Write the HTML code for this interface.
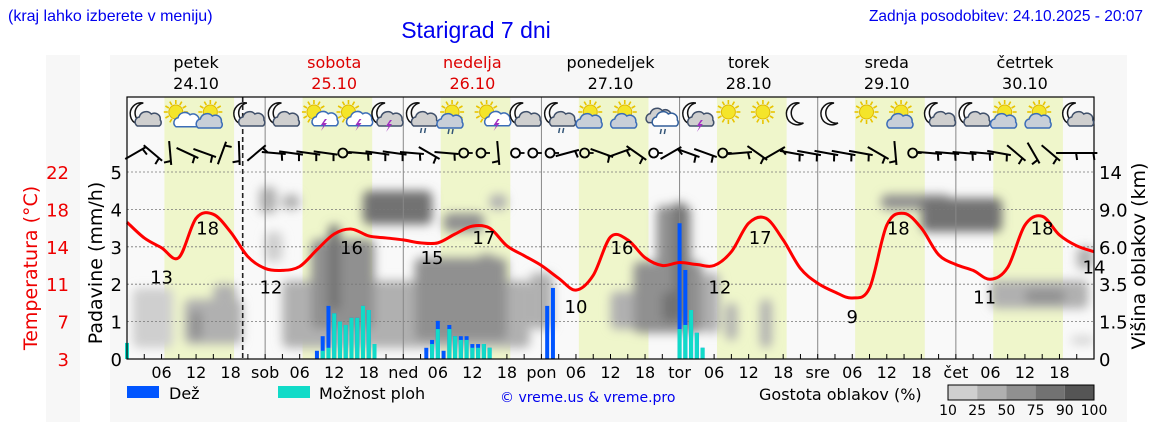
<!DOCTYPE html>
<html><head><meta charset="utf-8">
<style>
html,body{margin:0;padding:0;background:#fff;width:1152px;height:443px;overflow:hidden}
svg{display:block}
.t{font-family:"DejaVu Sans","Liberation Sans",sans-serif}
.l{font-family:"Liberation Sans",sans-serif}
</style></head>
<body>
<svg id="chart" width="1152" height="443" viewBox="0 0 1152 443" xmlns="http://www.w3.org/2000/svg">
<defs>
<filter id="blur" x="-20%" y="-20%" width="140%" height="140%"><feGaussianBlur stdDeviation="5"/></filter>
<clipPath id="plotclip"><rect x="127" y="97" width="967" height="262"/></clipPath>
</defs>
<rect x="46" y="55" width="34" height="367" fill="#f7f7f7"/>
<rect x="110" y="55" width="1017" height="367" fill="#f7f7f7"/>
<text class="l" x="8" y="21" font-size="16" fill="#0000ee">(kraj lahko izberete v meniju)</text>
<text class="l" x="476" y="38" font-size="23" fill="#0000ee" text-anchor="middle">Starigrad 7 dni</text>
<text class="l" x="1143" y="21" font-size="15.5" fill="#0000ee" text-anchor="end">Zadnja posodobitev: 24.10.2025 - 20:07</text>
<g id="plot"></g>
<text class="t" transform="translate(37,268) rotate(-90)" font-size="19" fill="#ee0000" text-anchor="middle">Temperatura (°C)</text>
<text class="t" transform="translate(102,263) rotate(-90)" font-size="19" fill="#000" text-anchor="middle">Padavine (mm/h)</text>
<text class="t" transform="translate(1145,256) rotate(-90)" font-size="19" fill="#000" text-anchor="middle">Višina oblakov (km)</text>
<g>
<rect x="127" y="386" width="32" height="12" fill="#0055ff"/>
<text class="t" x="169" y="399" font-size="16">Dež</text>
<rect x="278" y="386" width="32" height="12" fill="#11dbc8"/>
<text class="t" x="319" y="399" font-size="16">Možnost ploh</text>
<text class="t" x="500" y="402" font-size="14" fill="#0000ee">© vreme.us &amp; vreme.pro</text>
<text class="t" x="759" y="400" font-size="16">Gostota oblakov (%)</text>
<g id="cbar"></g>
</g>
</svg>
<script>
const NS="http://www.w3.org/2000/svg";
// ---- data ----
const dayNames=["petek","sobota","nedelja","ponedeljek","torek","sreda","četrtek"];
const dayDates=["24.10","25.10","26.10","27.10","28.10","29.10","30.10"];
const dayColors=["#000","#dd0000","#dd0000","#000","#000","#000","#000"];
const dayAbbr=["","sob","ned","pon","tor","sre","čet"];
const precipTicks=[0,1,2,3,4,5];
const tempTickLabels=["3","7","11","14","18","22"];
const cloudTickLabels=["0","1.5","3.5","6.0","9.0","14"];
const tempHours=[0,3,6,9,12,15,18,21,24,27,30,33,36,39,42,45,48,51,54,57,60,63,66,69,72,75,78,81,84,87,90,93,96,99,102,105,108,111,114,117,120,123,126,129,132,135,138,141,144,147,150,153,156,159,162,165,168];
const tempValues=[16.9,15.3,14.3,13.3,17.3,17.7,15.9,13.4,12.2,12.0,12.4,14.1,15.7,16.2,15.5,15.3,15.1,14.8,14.8,15.7,16.5,16.3,14.5,13.5,12.5,11.2,10.0,11.5,15.4,15.1,13.3,12.5,12.8,12.6,12.5,13.9,16.8,17.3,15.1,12.2,10.7,9.8,9.2,10.2,16.6,17.8,16.3,13.6,12.6,12.0,11.1,12.3,16.6,17.5,15.6,14.5,13.9];
const tempLabelHours=[6,14,25,39,53,62,78,86,103,110,126,134,149,159,168];
const tempLabelValues=[13,18,12,16,15,17,10,16,12,17,9,18,11,18,14];
const barHours=[0,33,34,35,36,37,38,39,40,41,42,43,52,53,54,55,56,57,58,59,60,61,62,63,73,74,96,97,98,99,100];
const rainValues=[0,0.22,0.61,1.42,1.22,1.0,0.91,1.1,1.1,1.42,1.31,0.4,0.3,0.51,1.02,0.22,0.91,0.61,0.61,0.61,0.4,0.4,0.4,0.3,1.42,1.9,3.63,2.38,1.31,0.7,0.3];
const showerValues=[0.43,0,0.22,0.3,1.22,1.0,0.91,1.1,1.1,1.42,1.31,0.4,0,0.4,0.8,0,0.8,0.61,0.51,0.51,0.3,0.3,0.4,0.3,0,0,0.8,0.91,1.31,0.7,0.3];
// cloud blobs: [hourStart,hourEnd,levelLow,levelHigh,density%]
const cloudBlobs=[[1,8,0.3,1.9,20],[10,20,0.4,1.6,25],[11,13,0.5,1.3,50],[15,19,0.6,2.0,45],[23,26,3.9,4.6,35],[27,30,4.0,4.4,35],[24,27,2.6,3.4,20],
[27,70,0.3,2.1,40],[32,43,0.8,3.2,60],[35,37,1.3,3.6,80],[41,53,3.6,4.5,75],[55,62,3.4,3.9,60],[63,66,4.0,4.4,40],
[50,66,0.5,2.7,50],[61,64,1.5,2.8,70],[70,74,0.8,2.3,40],[84,89,0.8,1.8,40],[88,100,0.7,2.6,50],[92,98,1.5,4.1,50],[93,97,1.0,1.8,80],[95,97,1.6,4.2,85],
[100,103,0.7,2.3,35],[104,106,0.5,1.5,40],[110,112,0.3,1.6,40],[131,143,4.0,4.4,70],[138,152,3.4,4.3,85],[150,167,1.35,2.1,35],[156,163,1.5,1.85,55],[165,168,2.4,3.0,30],[164,168,0.4,0.6,20]];
const iconTypes=["mc","sc","sc2","mc","mc","ss","ss","ms","mr","sr","ss","mc","mr","ssc","sc2","cr","ms","s","s","m","m","s","ssc","mc","mc","sc2","sc2","mc"];
const windAngles=[-30,40,85,25,20,-70,88,-40, 5,8,8,8,null,5,8,8, 5,30,5,null,null,85,null,null, null,-15,null,20,-20,35,null,-30, 20,20,null,-5,35,-30,10,10, 10,10,10,30,85,null,5,5, 5,5,10,40,60,40,0,0];
const densityLevels=[10,25,50,75,90];
const densityColors=["#cfcfcf","#b0b0b0","#909090","#727272","#555555"];
// ---- scales ----
const X0=127,X1=1094,Y0=359,UNIT=37.4;
function xOf(h){return X0+h*(X1-X0)/168;}
function yL(v){return Y0-v*UNIT;}
function yT(t){return yL((t-3)/3.8);}
function colorFor(d){let c=densityColors[0];for(let i=0;i<densityLevels.length;i++){if(d>=densityLevels[i])c=densityColors[i];}return c;}
const plot=document.getElementById('plot');
function mk(tag,attrs,parent){const e=document.createElementNS(NS,tag);for(const k in attrs)e.setAttribute(k,attrs[k]);(parent||plot).appendChild(e);return e;}
const bg=mk('rect',{x:X0,y:97,width:X1-X0,height:262,fill:'#f9f9f9'});


for(let d=0;d<7;d++){
  const r=mk('rect',{x:xOf(d*24+6.5),y:97,width:xOf(d*24+18.6)-xOf(d*24+6.5),height:262,fill:'#eff6cb'});
  
  
}
const cgc=mk('g',{'clip-path':'url(#plotclip)'});
const cg=mk('g',{filter:'url(#blur)'},cgc);


cloudBlobs.forEach(b=>{
  const r=mk('rect',{x:xOf(b[0]),y:yL(b[3]),width:xOf(b[1])-xOf(b[0]),height:yL(b[2])-yL(b[3]),fill:colorFor(b[4]),rx:6},cg);
  
  
});
precipTicks.forEach((v,i)=>{
  if(v>0){const g=mk('line',{x1:X0,x2:X1,y1:yL(v),y2:yL(v),stroke:'#777','stroke-dasharray':'2,2','stroke-width':0.8});
  
  }
  const t=mk('text',{x:122,y:yL(v)+7,'font-size':18,'text-anchor':'end',class:'t'});t.textContent=v;
  
  
  const tt=mk('text',{x:69,y:yL(v)+7,'font-size':18,'text-anchor':'end',fill:'#ee0000',class:'t'});tt.textContent=tempTickLabels[i];
  
  
  const ct=mk('text',{x:1099,y:yL(v)+7,'font-size':18,class:'t'});ct.textContent=cloudTickLabels[i];
  
  
});
for(let d=0;d<7;d++){
  if(d>0){const l=mk('line',{x1:xOf(d*24),x2:xOf(d*24),y1:97,y2:Y0,stroke:'#888','stroke-width':1});
    
    }
  const cx=xOf(d*24+12);
  const n=mk('text',{x:cx,y:68,'font-size':16,'text-anchor':'middle',fill:dayColors[d],class:'t'});n.textContent=dayNames[d];
  
  
  const dt=mk('text',{x:cx,y:89,'font-size':16,'text-anchor':'middle',fill:dayColors[d],class:'t'});dt.textContent=dayDates[d];
  
  
  for(let k=0;k<8;k++){
    const h=d*24+k*3;
    const tk=mk('line',{x1:xOf(h),x2:xOf(h),y1:Y0,y2:Y0-5,stroke:'#000','stroke-width':1});
    
    
  }
  [[0,dayAbbr[d]],[6,"06"],[12,"12"],[18,"18"]].forEach(p=>{
    if(!p[1])return;
    const t=mk('text',{x:xOf(d*24+p[0]),y:378,'font-size':16,'text-anchor':'middle',class:'t'});t.textContent=p[1];
    
    
  });
}
const nowLine=mk('line',{x1:xOf(20.1),x2:xOf(20.1),y1:97,y2:Y0,stroke:'#222','stroke-width':1.6,'stroke-dasharray':'5,3'});


barHours.forEach((h,i)=>{
  const x=xOf(h)-2;
  if(rainValues[i]>0){const b=mk('rect',{x:x,y:yL(rainValues[i]),width:4,height:Y0-yL(rainValues[i]),fill:'#0055ff'});
    
    }
  if(showerValues[i]>0){const c=mk('rect',{x:x,y:yL(showerValues[i]),width:4,height:Y0-yL(showerValues[i]),fill:'#11dbc8'});
    
    }
});
(function(){
  const pts=tempHours.map((h,i)=>[xOf(h),yT(tempValues[i])]);
  let d='M'+pts[0][0]+','+pts[0][1];
  for(let i=0;i<pts.length-1;i++){
    const p0=pts[Math.max(0,i-1)],p1=pts[i],p2=pts[i+1],p3=pts[Math.min(pts.length-1,i+2)];
    const c1=[p1[0]+(p2[0]-p0[0])/6,p1[1]+(p2[1]-p0[1])/6],c2=[p2[0]-(p3[0]-p1[0])/6,p2[1]-(p3[1]-p1[1])/6];
    d+=' C'+c1[0]+','+c1[1]+' '+c2[0]+','+c2[1]+' '+p2[0]+','+p2[1];
  }
  const p=mk('path',{d:d,fill:'none',stroke:'#ff0000','stroke-width':3,'stroke-linejoin':'round'});
  
  
  tempLabelHours.forEach((h,i)=>{
    const t=mk('text',{x:xOf(h),y:yT(tempLabelValues[i])+23,'font-size':18,'text-anchor':'middle',class:'t'});
    t.textContent=tempLabelValues[i];
    
    
  });
})();
const fr=mk('rect',{x:X0,y:97,width:X1-X0,height:262,fill:'none',stroke:'#000','stroke-width':1.2});


function cloud(g,cx,cy,fill,stroke,s){
  const d=`M${cx-11*s},${cy+6*s} a5 5 0 0 1 2,-9 a7 7 0 0 1 12,-3 a6 6 0 0 1 9,6 a4 4 0 0 1 -1,6 z`;
  mk('path',{d:d,fill:fill,stroke:stroke,'stroke-width':1.5},g);
}
function sun(g,cx,cy){
  for(let a=0;a<360;a+=30){const r=Math.PI*a/180;mk('line',{x1:cx+8*Math.cos(r),y1:cy+8*Math.sin(r),x2:cx+12*Math.cos(r),y2:cy+12*Math.sin(r),stroke:'#e8c400','stroke-width':1.6},g);}
  mk('circle',{cx:cx,cy:cy,r:7,fill:'#f4e52a',stroke:'#e0b800','stroke-width':1},g);
}
function moon(g,cx,cy){
  mk('path',{d:`M${cx+2},${cy-11} A11 11 0 1 0 ${cx+6},${cy+9} A9 9 0 1 1 ${cx+2},${cy-11} z`,fill:'#fff',stroke:'#111','stroke-width':1.5},g);
}
function bolt(g,cx,cy){mk('path',{d:`M${cx+2},${cy} l-4,6 h3 l-3,6 l6,-8 h-3 l3,-4 z`,fill:'#a030c0'},g);}
function rain(g,cx,cy){mk('path',{d:`M${cx-3},${cy} l-1,5 M${cx+1},${cy} l-1,5`,stroke:'#335577','stroke-width':1.5},g);}
iconTypes.forEach((t,i)=>{
  const cx=xOf(3+6*i),cy=116;
  const g=mk('g',{});
  
  
  if(t[0]==='m'){moon(g,cx-3,cy-2);if(t!=='m')cloud(g,cx+4,cy+4,'#cfcfcf','#40506a',1);if(t==='ms')bolt(g,cx+2,cy+4);if(t==='mr')rain(g,cx+4,cy+12);}
  else if(t==='cr'){cloud(g,cx-2,cy,'#d0d0d0','#40506a',1.1);cloud(g,cx+3,cy+4,'#fff','#335f9a',1);rain(g,cx+2,cy+13);}
  else{sun(g,cx-3,cy-4);
    if(t==='sc')cloud(g,cx+6,cy+6,'#fff','#3b6db8',0.8);
    if(t==='sc2'||t==='ssc')cloud(g,cx-4,cy+6,'#c8cfd8','#3b6db8',1);
    if(t==='ss'){cloud(g,cx+6,cy+5,'#fff','#3b6db8',0.8);bolt(g,cx+6,cy+3);}
    if(t==='sr'){cloud(g,cx-5,cy+6,'#c8cfd8','#3b6db8',1);rain(g,cx-3,cy+13);}
  }
});
windAngles.forEach((a,i)=>{
  const x=xOf(1.5+3*i),y=153;
  const g=mk('g',{});
  
  
  if(a===null){mk('circle',{cx:x,cy:y,r:4.5,fill:'none',stroke:'#000','stroke-width':1.8},g);
    mk('line',{x1:x+4.5,y1:y,x2:x+9,y2:y,stroke:'#000','stroke-width':1.8},g);return;}
  g.setAttribute('transform',`rotate(${a} ${x} ${y})`);
  mk('line',{x1:x-12,y1:y,x2:x+12,y2:y,stroke:'#000','stroke-width':2},g);
  mk('line',{x1:x+8,y1:y,x2:x+9,y2:y+7,stroke:'#000','stroke-width':2},g);
});
const cb=document.getElementById('cbar');
densityColors.forEach((c,i)=>{
  const r=mk('rect',{x:948+i*29.2,y:385,width:29.2,height:15,fill:c},cb);
  
  
});
mk('rect',{x:948,y:385,width:146,height:15,fill:'none',stroke:'#000','stroke-width':1},cb);
["10","25","50","75","90","100"].forEach((s,i)=>{
  const t=mk('text',{x:948+i*29.2,y:415,'font-size':14,'text-anchor':'middle',class:'t'},cb);t.textContent=s;
  
  
});
</script>
</body></html>
